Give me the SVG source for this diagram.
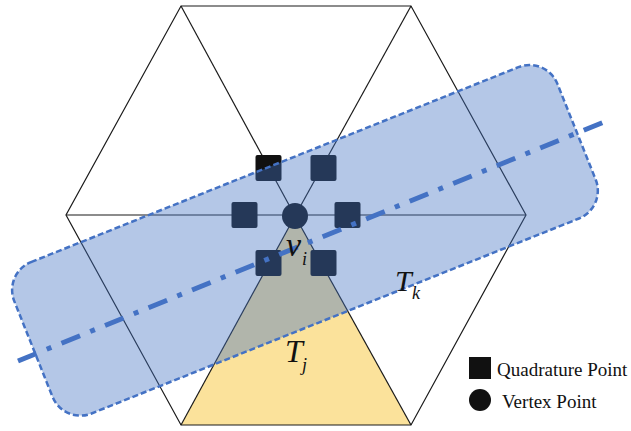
<svg xmlns="http://www.w3.org/2000/svg" width="631" height="431" viewBox="0 0 631 431">
<style>
.edge{stroke:#1a1a1a;stroke-width:1.2;fill:none}
.qp{fill:#111111}
.lbl{font-family:"Liberation Serif","DejaVu Serif",serif;font-style:italic;fill:#111}
.leg{font-family:"Liberation Serif","DejaVu Serif",serif;font-size:19px;fill:#111}
</style>
<rect width="631" height="431" fill="#ffffff"/>
<g id="triangle-Tj">
<polygon points="295,216 181,425 411,425" fill="#FBE29B"/>
</g>
<g id="connectors">
<polygon class="edge" points="181,6 411,6 526,215 411,425 181,425 66,215"/>
<line class="edge" x1="66" y1="215" x2="526" y2="215"/>
<line class="edge" x1="295" y1="216" x2="181" y2="6"/>
<line class="edge" x1="295" y1="216" x2="411" y2="6"/>
<line class="edge" x1="295" y1="216" x2="181" y2="425"/>
<line class="edge" x1="295" y1="216" x2="411" y2="425"/>
</g>
<g id="quadrature-points">
<rect class="qp" x="255.5" y="155" width="26" height="26" rx="2"/>
<rect class="qp" x="310.5" y="155" width="26" height="26" rx="2"/>
<rect class="qp" x="231.5" y="202" width="26" height="26" rx="2"/>
<rect class="qp" x="334.5" y="202" width="26" height="26" rx="2"/>
<rect class="qp" x="255.5" y="250" width="26" height="26" rx="2"/>
<rect class="qp" x="310.5" y="250" width="26" height="26" rx="2"/>
</g>
<g id="vertex-vi">
<circle cx="295" cy="216" r="13" fill="#111111"/>
</g>
<g id="band-Tk">
<rect x="-292" y="-81.5" width="585" height="163" rx="30" transform="translate(304.5,240.5) rotate(-21.8)" fill="#4472C4" fill-opacity="0.4" stroke="#4472C4" stroke-width="2.5" stroke-dasharray="6 3"/>
</g>
<g id="axis">
<line x1="18" y1="361" x2="604" y2="122" stroke="#4472C4" stroke-width="5" stroke-dasharray="20 11 5 11"/>
</g>
<g id="labels">
<text class="lbl" x="286" y="256" font-size="34">v</text>
<text class="lbl" x="302" y="265" font-size="18">i</text>
<text class="lbl" x="395" y="291" font-size="30">T</text>
<text class="lbl" x="412" y="299" font-size="18">k</text>
<text class="lbl" x="285" y="362" font-size="32">T</text>
<text class="lbl" x="302" y="371" font-size="18">j</text>
</g>
<g id="legend">
<rect x="469" y="357" width="22" height="22" fill="#111111"/>
<text class="leg" x="497" y="376">Quadrature Point</text>
<circle cx="480" cy="400" r="11" fill="#111111"/>
<text class="leg" x="502" y="408">Vertex Point</text>
</g>
</svg>
